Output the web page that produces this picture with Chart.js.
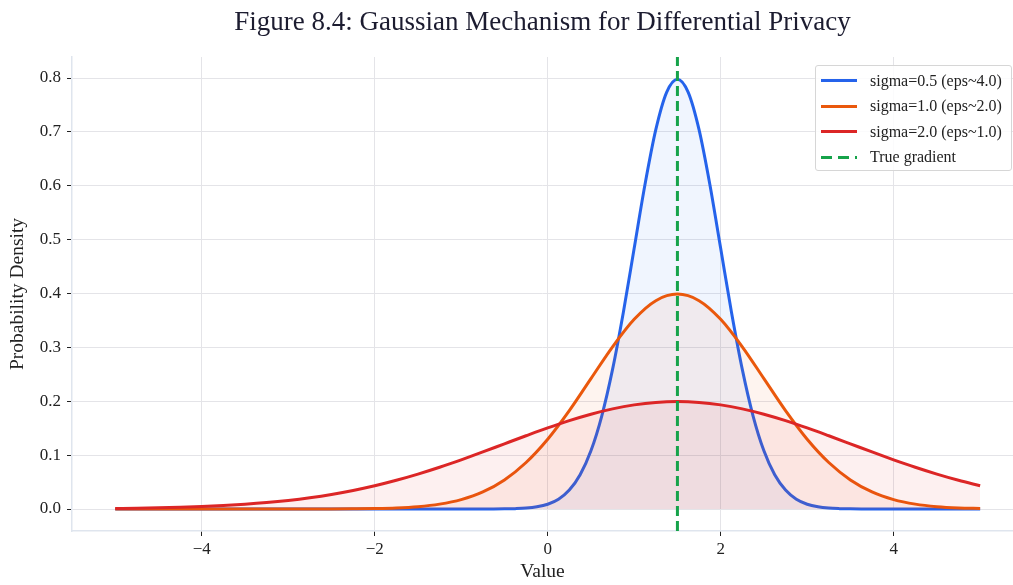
<!DOCTYPE html>
<html>
<head>
<meta charset="utf-8">
<script src="https://cdn.jsdelivr.net/npm/chart.js@4.4.1/dist/chart.umd.min.js"></script>
<style>
  body { margin: 0; background: #fff; }
  #wrap { position: relative; width: 1013px; height: 585px; overflow: hidden; }
  #legend {
    position: absolute; left: 815px; top: 65px; width: 197px; height: 106px;
    border: 1px solid #d6d6d6; border-radius: 3px; background: rgba(255,255,255,0.85);
    font-family: "Liberation Serif", serif; font-size: 16px; color: #222;
    box-sizing: border-box; padding-top: 2px; white-space: nowrap;
  }
  .item { display: flex; align-items: center; height: 25.5px; }
  .swatch { width: 36px; margin-left: 5px; margin-right: 13px; border-top-width: 3px; border-top-style: solid; }
</style>
</head>
<body>
<div id="wrap">
  <canvas id="myChart" width="1013" height="585"></canvas>
  <div id="legend"></div>
</div>
<script>
// values, x step 0.25 from -5 to 5
var xValues = [-5,-4.75,-4.5,-4.25,-4,-3.75,-3.5,-3.25,-3,-2.75,-2.5,-2.25,-2,-1.75,-1.5,-1.25,-1,-0.75,-0.5,-0.25,
               0,0.25,0.5,0.75,1,1.25,1.5,1.75,2,2.25,2.5,2.75,3,3.25,3.5,3.75,4,4.25,4.5,4.75,5];

var sigma10 = [0,0,0,0,0,0,0,0,0,0,0.0001,0.0004,0.0009,0.0020,0.0044,0.0091,0.0175,0.0317,0.0540,0.0863,
               0.1295,0.1826,0.2420,0.3011,0.3521,0.3867,0.3989,0.3867,0.3521,0.3011,0.2420,0.1826,0.1295,0.0863,0.0540,0.0317,0.0175,0.0091,0.0044,0.0020,0.0009];

var sigma20 = [0.0010,0.0015,0.0022,0.0032,0.0045,0.0064,0.0088,0.0119,0.0159,0.0209,0.0270,0.0344,0.0431,0.0533,0.0648,0.0775,0.0913,0.1059,0.1210,0.1360,
               0.1506,0.1641,0.1760,0.1859,0.1933,0.1979,0.1995,0.1979,0.1933,0.1859,0.1760,0.1641,0.1506,0.1360,0.1210,0.1059,0.0913,0.0775,0.0648,0.0533,0.0431];

// the narrow curve is read more finely around its peak
var xNarrow = [-5,-0.75,-0.625,-0.5,-0.375,-0.25,-0.125,0,0.125,0.25,0.375,0.5,0.625,0.75,0.875,1,1.125,1.25,1.375,
               1.5,1.625,1.75,1.875,2,2.125,2.25,2.375,2.5,2.625,2.75,2.875,3,3.125,3.25,3.375,3.5,3.625,3.75,5];
var sigma05 = [0,0,0.0001,0.0003,0.0007,0.0017,0.0041,0.0089,0.0182,0.0351,0.0635,0.1080,0.1726,0.2591,0.3653,0.4839,0.6023,0.7041,0.7734,
               0.7979,0.7734,0.7041,0.6023,0.4839,0.3653,0.2591,0.1726,0.1080,0.0635,0.0351,0.0182,0.0089,0.0041,0.0017,0.0007,0.0003,0.0001,0,0];

var trueGradient = 1.5;

var seriesLabels = ["sigma=0.5 (eps~4.0)", "sigma=1.0 (eps~2.0)", "sigma=2.0 (eps~1.0)", "True gradient"];
var seriesColors = ["#2563eb", "#ea580c", "#dc2626", "#16a34a"];
var fillColors = ["rgba(37,99,235,0.065)", "rgba(234,88,12,0.065)", "rgba(220,38,38,0.07)"];

var xTicks = [-4, -2, 0, 2, 4];
var yTicks = [0, 0.1, 0.2, 0.3, 0.4, 0.5, 0.6, 0.7, 0.8];

var X_MIN = -5.5, X_MAX = 5.38, Y_MIN = -0.0408, Y_MAX = 0.839;

var FONT = "'Liberation Serif', serif";

function toPoints(xs, ys) {
    return xs.map((x, i) => ({x: x, y: ys[i]}));
}

var curves = [toPoints(xNarrow, sigma05), toPoints(xValues, sigma10), toPoints(xValues, sigma20)];
var datasets = [];
for (var i = 0; i < curves.length; i++) {
    datasets.push({
        label: seriesLabels[i],
        data: curves[i],
        borderColor: seriesColors[i],
        backgroundColor: fillColors[i],
        borderWidth: 3,
        pointRadius: 0,
        fill: "origin",
        cubicInterpolationMode: "monotone",
        order: 3 - i
    });
}
datasets.push({
    label: seriesLabels[3],
    data: [{x: trueGradient, y: Y_MIN}, {x: trueGradient, y: Y_MAX}],
    borderColor: seriesColors[3],
    borderWidth: 3,
    borderDash: [10, 5],
    pointRadius: 0,
    fill: false,
    order: 0
});

var ctx = document.getElementById("myChart").getContext("2d");
var myChart = new Chart(ctx, {
    type: "line",
    data: { datasets: datasets },
    options: {
        responsive: false,
        animation: false,
        layout: { padding: { left: 0, right: 0, top: 0, bottom: 0 } },
        plugins: {
            legend: { display: false },
            tooltip: { enabled: false },
            title: {
                display: true,
                fullSize: false,
                text: "Figure 8.4: Gaussian Mechanism for Differential Privacy",
                color: "#1c1c30",
                font: { family: FONT, size: 27, weight: "normal" },
                padding: { top: 7, bottom: 17.6 }
            }
        },
        scales: {
            x: {
                type: "linear",
                min: X_MIN,
                max: X_MAX,
                afterBuildTicks: (scale) => { scale.ticks = xTicks.map(v => ({value: v})); },
                afterFit: (scale) => { scale.height = 54; },
                ticks: { color: "#222", font: { family: FONT, size: 17 }, padding: 3, maxRotation: 0,
                         callback: (v) => (v < 0 ? "\u2212" + Math.abs(v) : String(v)) },
                grid: { color: "#e4e4e8", lineWidth: 1, tickLength: 5, tickColor: "#222", drawTicks: true },
                border: { color: "#dfe5ee", width: 1.5 },
                title: { display: true, text: "Value", color: "#222",
                         font: { family: FONT, size: 19.5 }, padding: { top: 0, bottom: 1 } }
            },
            y: {
                type: "linear",
                min: Y_MIN,
                max: Y_MAX,
                afterBuildTicks: (scale) => { scale.ticks = yTicks.map(v => ({value: v})); },
                afterFit: (scale) => { scale.width = 72; },
                ticks: { color: "#222", font: { family: FONT, size: 17 }, padding: 6,
                         callback: (v) => v.toFixed(1) },
                grid: { color: "#e4e4e8", lineWidth: 1, tickLength: 5, tickColor: "#222", drawTicks: true },
                border: { color: "#dfe5ee", width: 1.5 },
                title: { display: true, text: "Probability Density", color: "#222",
                         font: { family: FONT, size: 19.5 }, padding: { top: 6, bottom: 0 } }
            }
        }
    },
    plugins: [{
        id: "whiteBg",
        beforeDraw: (chart) => {
            var c = chart.ctx;
            c.save();
            c.fillStyle = "#fff";
            c.fillRect(0, 0, chart.width, chart.height);
            c.restore();
        }
    }]
});

// legend in the top right of the plot
var legend = document.getElementById("legend");
for (var i = 0; i < seriesLabels.length; i++) {
    var item = document.createElement("div");
    item.className = "item";
    var sw = document.createElement("span");
    sw.className = "swatch";
    sw.style.borderTopColor = seriesColors[i];
    if (i == 3) {
        sw.style.borderTopStyle = "none";
        sw.style.height = "3px";
        sw.style.background = "repeating-linear-gradient(to right, " + seriesColors[i] + " 0 11px, transparent 11px 17px)";
    }
    var txt = document.createElement("span");
    txt.textContent = seriesLabels[i];
    item.appendChild(sw);
    item.appendChild(txt);
    legend.appendChild(item);
}
</script>
</body>
</html>
